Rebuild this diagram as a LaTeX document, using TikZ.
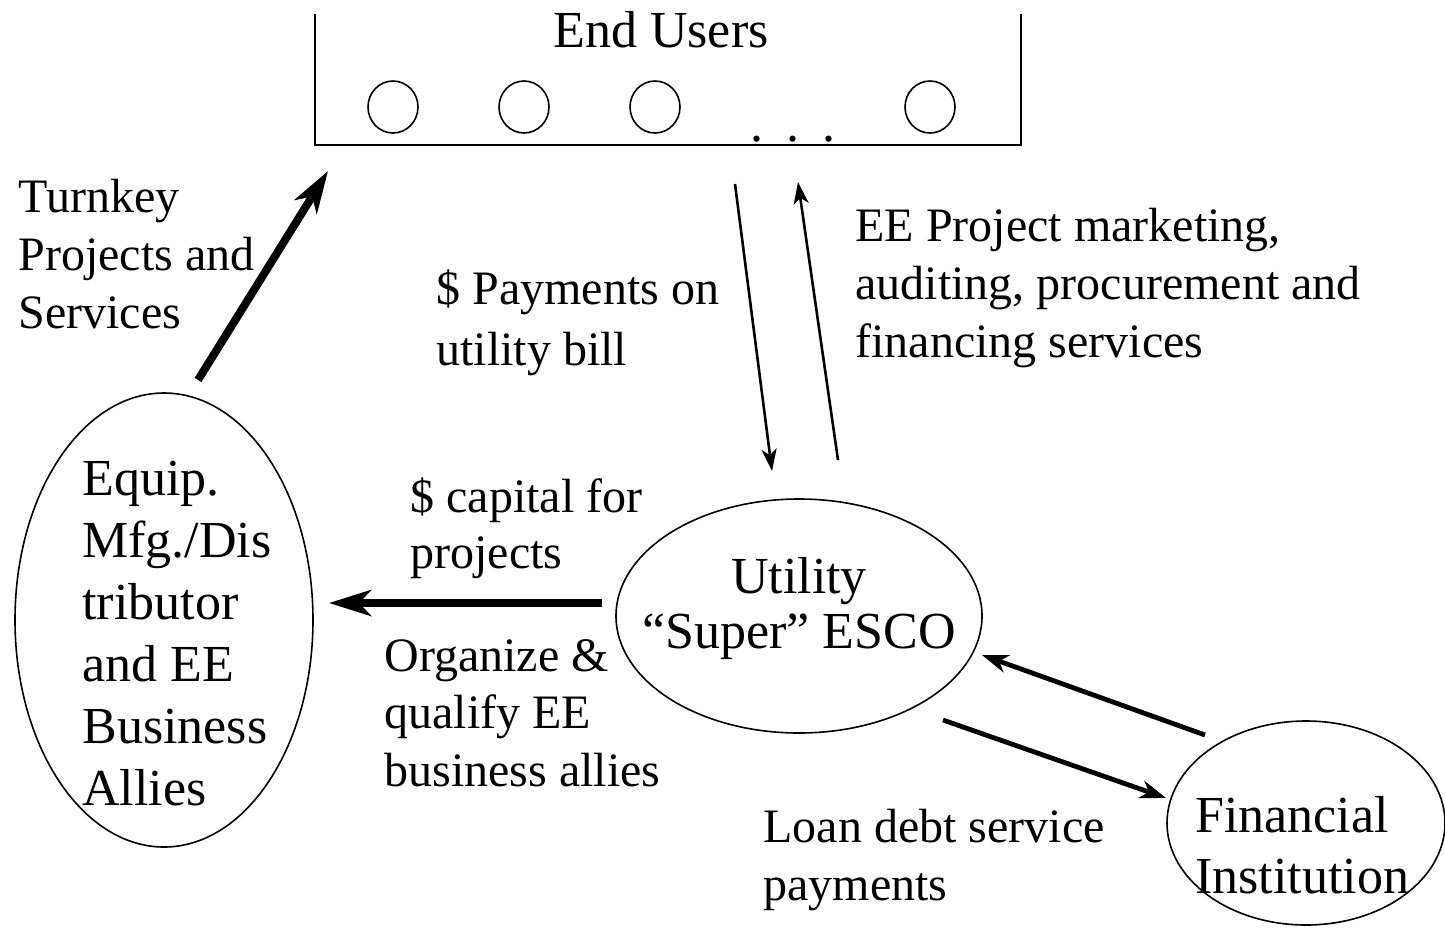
\documentclass[tikz,border=0pt]{standalone}
\usepackage{fontspec}
\setmainfont{Liberation Serif}
\usetikzlibrary{arrows.meta,shapes.geometric}
\tikzset{
  lbl/.style={anchor=base west, align=left, inner sep=0pt, font=\fontsize{24}{29}\selectfont},
  bigtext/.style={inner sep=0pt, font=\fontsize{26}{31}\selectfont},
  oval/.style={draw, ellipse, inner sep=0pt, line width=0.8pt},
  thinarrow/.style={line width=1.3pt, -{Stealth[length=11pt,width=7.5pt,inset=3pt]}},
  midarrow/.style={line width=2.4pt, -{Stealth[length=13pt,width=9pt,inset=4pt]}},
  thickarrow/.style={line width=4pt, -{Stealth[length=21pt,width=13pt,inset=6pt]}},
}
\begin{document}
\begin{tikzpicture}[x=0.5pt,y=-0.5pt]
\useasboundingbox (0,0) rectangle (1445,927);

% End users box
\coordinate (btl) at (315,14);
\coordinate (bbl) at (315,145);
\coordinate (bbr) at (1021,145);
\coordinate (btr) at (1021,14);
\draw[line width=1pt] (btl) -- (bbl) -- (bbr) -- (btr);
\node[bigtext, anchor=base] (eu) at (661,47) {End Users};
\node[oval, minimum width=25pt, minimum height=26pt] (u1) at (393,107) {};
\node[oval, minimum width=25pt, minimum height=26pt] (u2) at (524,107) {};
\node[oval, minimum width=25pt, minimum height=26pt] (u3) at (655,107) {};
\node[oval, minimum width=25pt, minimum height=26pt] (u4) at (930,107) {};
\node[bigtext, anchor=base] (dots) at (793,141) {.\hspace{11.5pt}.\hspace{11.5pt}.};

% Ellipses
\node[oval, minimum width=149pt, minimum height=227pt] (equip) at (164,620) {};
\node[oval, minimum width=183pt, minimum height=117pt] (esco) at (799,616) {};
\node[oval, minimum width=139pt, minimum height=102pt] (fin) at (1306,823) {};

% multi-line nodes: base anchor = baseline of the last line
\node[bigtext, anchor=base west, align=left] (equiptxt) at (82,805)
  {Equip.\\Mfg./Dis\\tributor\\and EE\\Business\\Allies};
\node[anchor=base, align=center, inner sep=0pt, font=\fontsize{26}{27.5}\selectfont] (escotxt) at (799,648)
  {Utility\\“Super” ESCO};
\node[anchor=base west, align=left, inner sep=0pt, font=\fontsize{26}{30.5}\selectfont] (fintxt) at (1195,893)
  {Financial\\Institution};

% Labels
\node[lbl] (turnkey) at (18,328) {Turnkey\\Projects and\\Services};
\node[lbl, font=\fontsize{24}{30.5}\selectfont] (pay) at (436,365) {\$ Payments on\\utility bill};
\node[lbl] (eeproj) at (855,357) {EE Project marketing,\\auditing, procurement and\\financing services};
\node[lbl, font=\fontsize{24}{28}\selectfont] (capital) at (410,568) {\$ capital for\\projects};
\node[lbl, font=\fontsize{24}{28.7}\selectfont] (organize) at (384,786) {Organize \&\\qualify EE\\business allies};
\node[lbl] (loan) at (763,900) {Loan debt service\\payments};

% Arrow end points
\coordinate (tkA) at (198,380);
\coordinate (tkB) at (328,171);
\coordinate (pyA) at (735,184);
\coordinate (pyB) at (772,471);
\coordinate (eeA) at (838,460);
\coordinate (eeB) at (798,182);
\coordinate (cpA) at (602,603);
\coordinate (cpB) at (329,603);
\coordinate (fuA) at (1205,735);
\coordinate (fuB) at (982,655);
\coordinate (flA) at (943,720);
\coordinate (flB) at (1166,798);

\draw[thickarrow] (tkA) -- (tkB);
\draw[thickarrow] (cpA) -- (cpB);
\draw[thinarrow] (pyA) -- (pyB);
\draw[thinarrow] (eeA) -- (eeB);
\draw[midarrow] (fuA) -- (fuB);
\draw[midarrow] (flA) -- (flB);
\end{tikzpicture}
\end{document}
